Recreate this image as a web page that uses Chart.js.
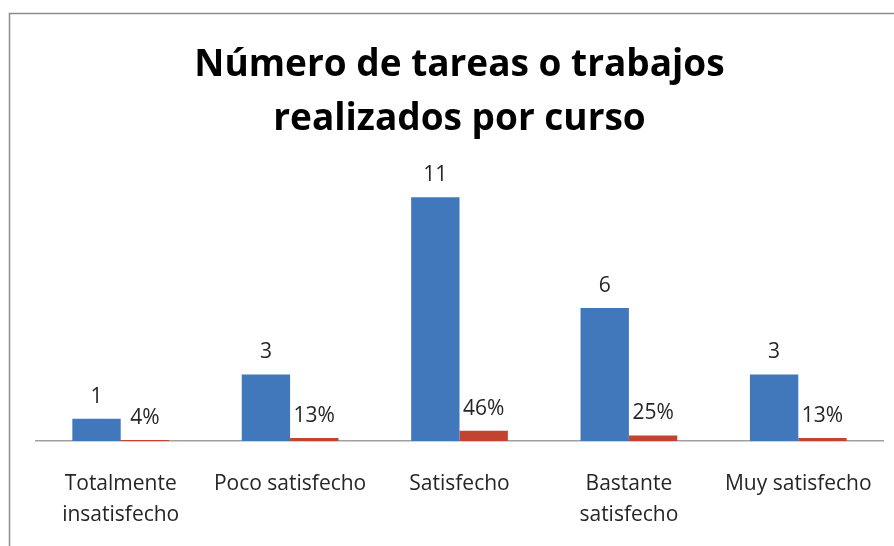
<!DOCTYPE html>
<html lang="es">
<head>
<meta charset="UTF-8" />
<title>Número de tareas o trabajos realizados por curso</title>
<script src="https://cdn.jsdelivr.net/npm/chart.js"></script>
<style>
  html, body { margin: 0; padding: 0; background: #fff; }
  #wrap { width: 894px; height: 546px; position: relative; }
</style>
</head>
<body>
<div id="wrap"><canvas id="chart" width="894" height="546"></canvas></div>
<script>
  // data
  const categories = [
    ['Totalmente', 'insatisfecho'],
    'Poco satisfecho',
    'Satisfecho',
    ['Bastante', 'satisfecho'],
    'Muy satisfecho'
  ];
  const counts = [1, 3, 11, 6, 3];
  const shares = [0.04, 0.13, 0.46, 0.25, 0.13];

  const FONT = '"Open Sans", Lato, sans-serif';

  // outer frame of the original picture
  const framePlugin = {
    id: 'frame',
    beforeDraw(chart) {
      const ctx = chart.ctx;
      ctx.save();
      ctx.strokeStyle = '#8c8c8c';
      ctx.lineWidth = 1.5;
      ctx.strokeRect(9.5, 13.5, chart.width + 20, chart.height + 20);
      ctx.restore();
    }
  };

  // value labels above each bar
  const labelPlugin = {
    id: 'barLabels',
    afterDatasetsDraw(chart) {
      const ctx = chart.ctx;
      ctx.save();
      ctx.font = '21px ' + FONT;
      ctx.fillStyle = '#262626';
      ctx.textAlign = 'center';
      ctx.textBaseline = 'middle';
      chart.data.datasets.forEach((ds, di) => {
        const meta = chart.getDatasetMeta(di);
        meta.data.forEach((bar, i) => {
          const v = ds.data[i];
          const txt = di === 0 ? String(v) : Math.round(v * 100) + '%';
          ctx.fillText(txt, bar.x, bar.y - 22);
        });
      });
      ctx.restore();
    }
  };

  new Chart(document.getElementById('chart'), {
    type: 'bar',
    data: {
      labels: categories,
      datasets: [
        { label: 'Nº', data: counts, backgroundColor: '#4078bb' },
        { label: '%', data: shares, backgroundColor: '#c2432f' }
      ]
    },
    options: {
      responsive: false,
      animation: false,
      layout: { padding: { left: 36, right: 11, top: 10, bottom: 17 } },
      datasets: { bar: { categoryPercentage: 0.571, barPercentage: 1 } },
      plugins: {
        legend: { display: false },
        tooltip: { enabled: false },
        title: {
          display: true,
          text: ['Número de tareas o trabajos', 'realizados por curso'],
          color: '#000',
          font: { family: FONT, size: 37, weight: 'bold', lineHeight: 1.46 },
          padding: { top: 28, bottom: 29 }
        }
      },
      scales: {
        x: {
          afterFit(scale) {
            scale.height = 88;
            scale.paddingLeft = 0;
            scale.paddingRight = 0;
          },
          grid: { display: false, drawTicks: false },
          border: { display: true, color: '#a0a0a0', width: 1.5 },
          ticks: {
            color: '#262626',
            padding: 27,
            font: { family: FONT, size: 21, lineHeight: 1.48 },
            maxRotation: 0,
            autoSkip: false
          }
        },
        y: {
          display: false,
          min: 0,
          max: 12
        }
      }
    },
    plugins: [framePlugin, labelPlugin]
  });
</script>
</body>
</html>
